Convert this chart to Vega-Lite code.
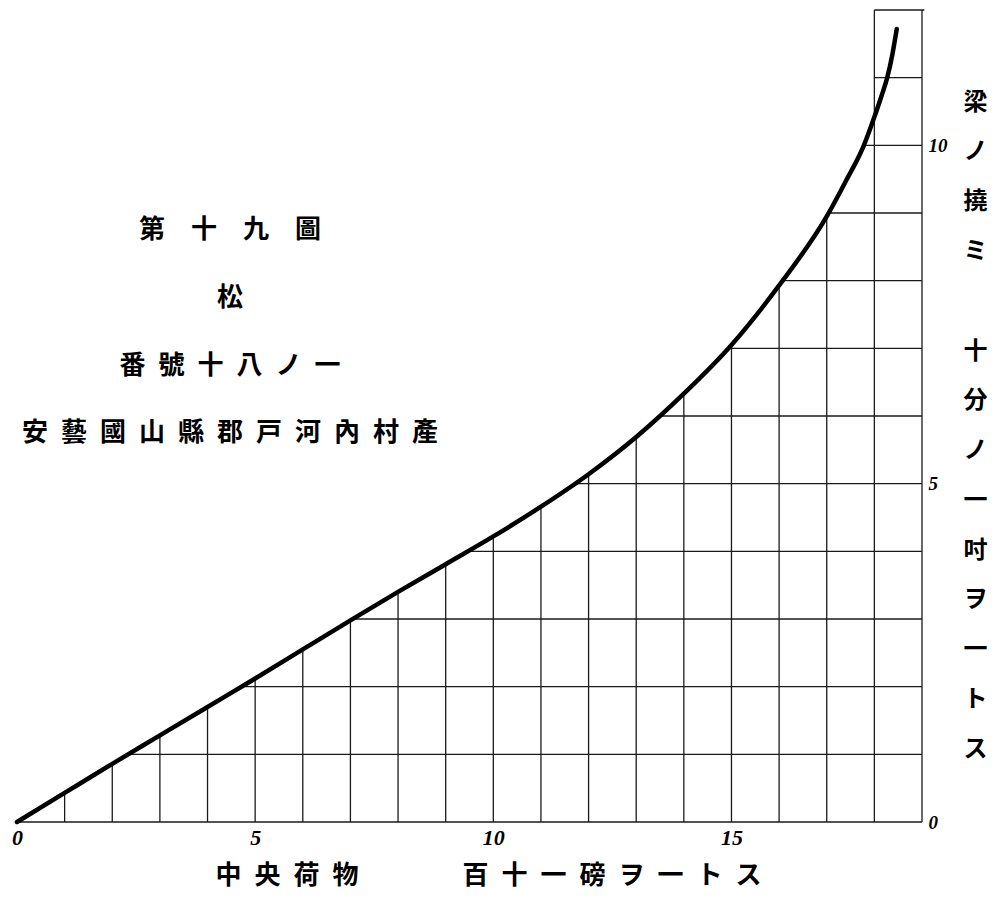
{
  "$schema": "https://vega.github.io/schema/vega-lite/v6.json",
  "width": 905,
  "height": 812,
  "autosize": {"type": "none"},
  "padding": {"left": 17, "top": 10, "right": 74, "bottom": 80},
  "background": "white",
  "config": {"view": {"stroke": null}},
  "title": {
    "text": ["第\u3000十\u3000九\u3000圖", "松", "番\u2002號\u2002十\u2002八\u2002ノ\u2002一", "安\u2002藝\u2002國\u2002山\u2002縣\u2002郡\u2002戸\u2002河\u2002內\u2002村\u2002產"],
    "anchor": "start",
    "frame": "group",
    "align": "center",
    "baseline": "top",
    "dx": 213,
    "dy": 437,
    "offset": 0,
    "font": "Noto Sans CJK JP",
    "fontSize": 26,
    "fontWeight": "bold",
    "color": "#000",
    "lineHeight": 67.7
  },
  "datasets": {
    "curve": [
      {"x": 0, "y": 0}, {"x": 1, "y": 0.43}, {"x": 2, "y": 0.86}, {"x": 3, "y": 1.28},
      {"x": 4, "y": 1.7}, {"x": 5, "y": 2.12}, {"x": 6, "y": 2.55}, {"x": 7, "y": 2.98},
      {"x": 8, "y": 3.4}, {"x": 9, "y": 3.81}, {"x": 10, "y": 4.22}, {"x": 11, "y": 4.66},
      {"x": 12, "y": 5.14}, {"x": 13, "y": 5.69}, {"x": 14, "y": 6.33}, {"x": 15, "y": 7.05},
      {"x": 16, "y": 7.93}, {"x": 17, "y": 8.95}, {"x": 17.4, "y": 9.47}, {"x": 17.78, "y": 10.0},
      {"x": 18, "y": 10.42}, {"x": 18.15, "y": 10.73}, {"x": 18.27, "y": 11.0}, {"x": 18.38, "y": 11.35},
      {"x": 18.47, "y": 11.72}
    ],
    "grid": [
      {"x": 1, "x2": 1, "y": 0, "y2": 0.43},
      {"x": 2, "x2": 2, "y": 0, "y2": 0.86},
      {"x": 3, "x2": 3, "y": 0, "y2": 1.28},
      {"x": 4, "x2": 4, "y": 0, "y2": 1.7},
      {"x": 5, "x2": 5, "y": 0, "y2": 2.12},
      {"x": 6, "x2": 6, "y": 0, "y2": 2.55},
      {"x": 7, "x2": 7, "y": 0, "y2": 2.98},
      {"x": 8, "x2": 8, "y": 0, "y2": 3.4},
      {"x": 9, "x2": 9, "y": 0, "y2": 3.81},
      {"x": 10, "x2": 10, "y": 0, "y2": 4.22},
      {"x": 11, "x2": 11, "y": 0, "y2": 4.66},
      {"x": 12, "x2": 12, "y": 0, "y2": 5.14},
      {"x": 13, "x2": 13, "y": 0, "y2": 5.69},
      {"x": 14, "x2": 14, "y": 0, "y2": 6.33},
      {"x": 15, "x2": 15, "y": 0, "y2": 7.05},
      {"x": 16, "x2": 16, "y": 0, "y2": 7.93},
      {"x": 17, "x2": 17, "y": 0, "y2": 8.95},
      {"x": 18, "x2": 18, "y": 0, "y2": 12},
      {"x": 19, "x2": 19, "y": 0, "y2": 12},
      {"x": 0, "x2": 19, "y": 0, "y2": 0},
      {"x": 2.33, "x2": 19, "y": 1, "y2": 1},
      {"x": 4.71, "x2": 19, "y": 2, "y2": 2},
      {"x": 7.05, "x2": 19, "y": 3, "y2": 3},
      {"x": 9.46, "x2": 19, "y": 4, "y2": 4},
      {"x": 11.71, "x2": 19, "y": 5, "y2": 5},
      {"x": 13.48, "x2": 19, "y": 6, "y2": 6},
      {"x": 14.93, "x2": 19, "y": 7, "y2": 7},
      {"x": 16.07, "x2": 19, "y": 8, "y2": 8},
      {"x": 17.04, "x2": 19, "y": 9, "y2": 9},
      {"x": 17.78, "x2": 19, "y": 10, "y2": 10},
      {"x": 18, "x2": 19, "y": 11, "y2": 11},
      {"x": 18, "x2": 19.05, "y": 12, "y2": 12}
    ]
  },
  "encoding": {
    "x": {
      "field": "x",
      "type": "quantitative",
      "scale": {"domain": [0, 19], "nice": false, "zero": false},
      "axis": {
        "orient": "bottom",
        "values": [0, 5, 10, 15],
        "domain": false,
        "ticks": false,
        "grid": false,
        "labelFont": "Liberation Serif",
        "labelFontStyle": "italic",
        "labelFontWeight": "bold",
        "labelFontSize": 22,
        "labelColor": "#000",
        "labelPadding": 5,
        "labelFlush": false,
        "title": "中\u2002央\u2002荷\u2002物\u3000\u3000\u3000\u3000百\u2002十\u2002一\u2002磅\u2002ヲ\u2002一\u2002ト\u2002ス",
        "titleFont": "Noto Sans CJK JP",
        "titleFontSize": 26,
        "titleFontWeight": "bold",
        "titleColor": "#000",
        "titleX": 471,
        "titleY": 53,
        "titleAlign": "center",
        "titleBaseline": "middle"
      }
    },
    "y": {
      "field": "y",
      "type": "quantitative",
      "scale": {"domain": [0, 12], "nice": false, "zero": false},
      "axis": {
        "orient": "right",
        "values": [0, 5, 10],
        "domain": false,
        "ticks": false,
        "grid": false,
        "labelFont": "Liberation Serif",
        "labelFontStyle": "italic",
        "labelFontWeight": "bold",
        "labelFontSize": 19,
        "labelColor": "#000",
        "labelPadding": 6,
        "labelAlign": "left",
        "labelFlush": false,
        "title": ["梁", "ノ", "撓", "ミ", "\u200b", "十", "分", "ノ", "一", "吋", "ヲ", "一", "ト", "ス"],
        "titleFont": "Noto Sans CJK JP",
        "titleFontSize": 24,
        "titleFontWeight": "bold",
        "titleColor": "#000",
        "titleAngle": 0,
        "titleX": 53,
        "titleY": 80,
        "titleAlign": "center",
        "titleBaseline": "top",
        "titleLineHeight": 49.8
      }
    }
  },
  "layer": [
    {
      "data": {"name": "grid"},
      "mark": {"type": "rule", "color": "#1a1a1a", "strokeWidth": 1.3},
      "encoding": {"x2": {"field": "x2"}, "y2": {"field": "y2"}}
    },
    {
      "data": {"name": "curve"},
      "mark": {"type": "line", "color": "#000", "strokeWidth": 4.5, "interpolate": "monotone", "strokeCap": "round"},
      "encoding": {}
    }
  ]
}
